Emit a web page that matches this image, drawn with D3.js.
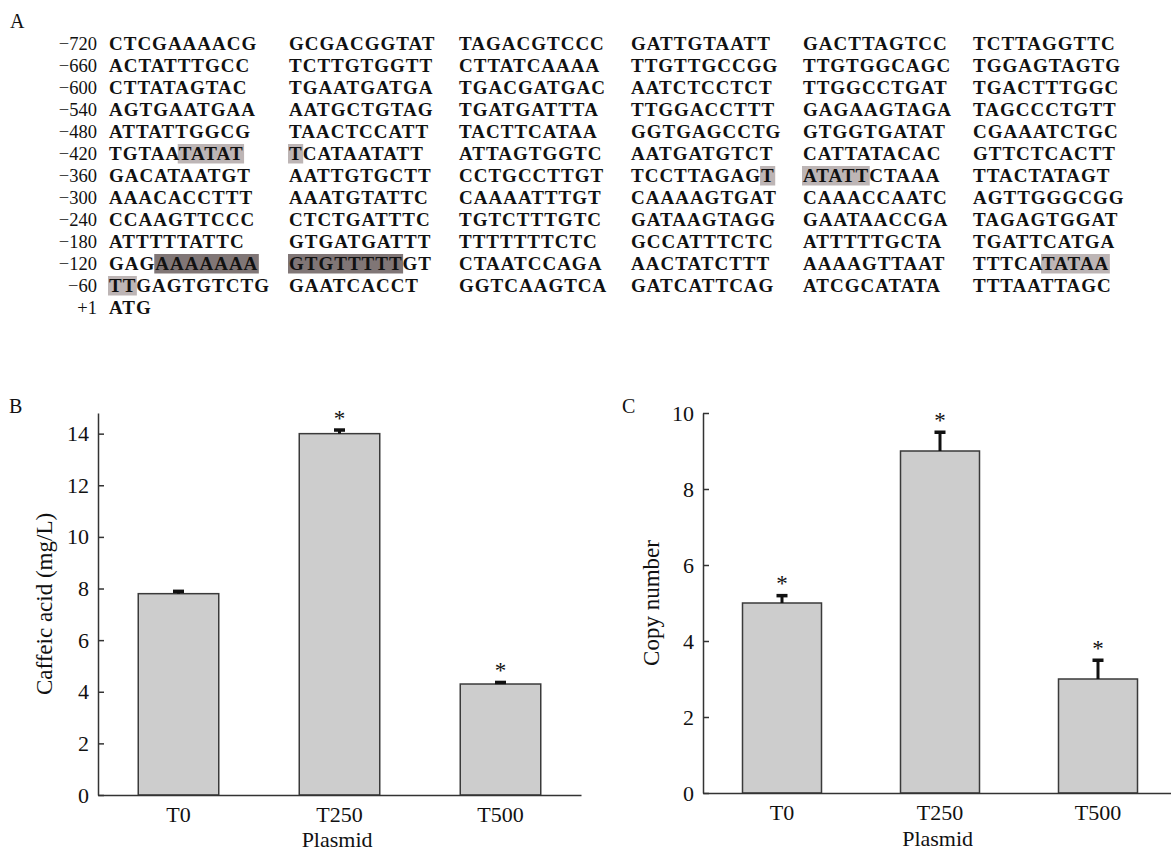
<!DOCTYPE html>
<html>
<head>
<meta charset="utf-8">
<script src="https://cdn.jsdelivr.net/npm/d3@7"></script>
<style>
  html, body { margin: 0; padding: 0; background: #fff; }
  svg { display: block; font-family: "Liberation Serif", "Times New Roman", serif; fill: #111; }
</style>
</head>
<body>
<div id="chart"></div>
<script>
// panel A: promoter sequence, one string per row, blocks split by spaces
var seqLabels = ['\u2212720', '\u2212660', '\u2212600', '\u2212540', '\u2212480', '\u2212420',
                 '\u2212360', '\u2212300', '\u2212240', '\u2212180', '\u2212120', '\u221260', '+1'];
var seqRows = [
  'CTCGAAAACG GCGACGGTAT TAGACGTCCC GATTGTAATT GACTTAGTCC TCTTAGGTTC',
  'ACTATTTGCC TCTTGTGGTT CTTATCAAAA TTGTTGCCGG TTGTGGCAGC TGGAGTAGTG',
  'CTTATAGTAC TGAATGATGA TGACGATGAC AATCTCCTCT TTGGCCTGAT TGACTTTGGC',
  'AGTGAATGAA AATGCTGTAG TGATGATTTA TTGGACCTTT GAGAAGTAGA TAGCCCTGTT',
  'ATTATTGGCG TAACTCCATT TACTTCATAA GGTGAGCCTG GTGGTGATAT CGAAATCTGC',
  'TGTAATATAT TCATAATATT ATTAGTGGTC AATGATGTCT CATTATACAC GTTCTCACTT',
  'GACATAATGT AATTGTGCTT CCTGCCTTGT TCCTTAGAGT ATATTCTAAA TTACTATAGT',
  'AAACACCTTT AAATGTATTC CAAAATTTGT CAAAAGTGAT CAAACCAATC AGTTGGGCGG',
  'CCAAGTTCCC CTCTGATTTC TGTCTTTGTC GATAAGTAGG GAATAACCGA TAGAGTGGAT',
  'ATTTTTATTC GTGATGATTT TTTTTTTCTC GCCATTTCTC ATTTTTGCTA TGATTCATGA',
  'GAGAAAAAAA GTGTTTTTGT CTAATCCAGA AACTATCTTT AAAAGTTAAT TTTCATATAA',
  'TTGAGTGTCTG GAATCACCT GGTCAAGTCA GATCATTCAG ATCGCATATA TTTAATTAGC',
  'ATG'
];
// marked bases: row, block, first and last base index, dark or light box
var marked = [
  { row: 5,  col: 0, from: 5, to: 9, dark: false },
  { row: 5,  col: 1, from: 0, to: 0, dark: false },
  { row: 6,  col: 3, from: 9, to: 9, dark: false },
  { row: 6,  col: 4, from: 0, to: 4, dark: false },
  { row: 10, col: 0, from: 3, to: 9, dark: true },
  { row: 10, col: 1, from: 0, to: 7, dark: true },
  { row: 10, col: 5, from: 5, to: 9, dark: false },
  { row: 11, col: 0, from: 0, to: 1, dark: false }
];

// panels B and C
var plasmids = ['T0', 'T250', 'T500'];
var caffeic = [7.8, 14.0, 4.3];
var caffeicErr = [0.1, 0.15, 0.07];
var caffeicStar = [false, true, true];
var caffeicTicks = [0, 2, 4, 6, 8, 10, 12, 14];
var copies = [5.0, 9.0, 3.0];
var copiesErr = [0.2, 0.5, 0.5];
var copiesStar = [true, true, true];
var copiesTicks = [0, 2, 4, 6, 8, 10];

var svg = d3.select('#chart').append('svg')
  .attr('width', 1171)
  .attr('height', 854);

// ---------- A ----------
var rowY = d3.scaleLinear().domain([0, 12]).range([50, 314]);
var colStart = [109, 289, 459, 631, 803, 973];
var spacing = 1;

var shade = svg.append('g');
var letters = svg.append('g');

svg.append('text').attr('x', 10).attr('y', 28).style('font-size', '20px').text('A');

letters.selectAll('text.lab')
  .data(seqLabels)
  .enter()
  .append('text')
  .attr('class', 'lab')
  .attr('x', 97)
  .attr('y', function(d, i) { return rowY(i); })
  .attr('text-anchor', 'end')
  .style('font-size', '18.5px')
  .text(function(d) { return d; });

var blocks = [];
seqRows.forEach(function(r, i) {
  r.split(' ').forEach(function(b, j) { blocks.push({ row: i, col: j, s: b }); });
});

letters.selectAll('text.seq')
  .data(blocks)
  .enter()
  .append('text')
  .attr('class', 'seq')
  .attr('x', function(d) { return colStart[d.col]; })
  .attr('y', function(d) { return rowY(d.row); })
  .style('font-size', '19px')
  .style('font-weight', 'bold')
  .style('letter-spacing', spacing + 'px')
  .text(function(d) { return d.s; });

marked.forEach(function(m) {
  var node = letters.selectAll('text.seq')
    .filter(function(d) { return d.row === m.row && d.col === m.col; })
    .node();
  var x0 = node.getStartPositionOfChar(m.from).x - 1;
  var x1 = node.getEndPositionOfChar(m.to).x - spacing + 1.5;
  shade.append('rect')
    .attr('x', x0)
    .attr('y', rowY(m.row) - 16)
    .attr('width', x1 - x0)
    .attr('height', 19.5)
    .attr('fill', m.dark ? '#807676' : '#bdb5b5');
});

// ---------- B and C ----------
function barPanel(o) {
  var g = svg.append('g');
  var x = d3.scaleBand().domain(plasmids).range([o.left, o.right])
    .paddingInner(0.5).paddingOuter(0.25);
  var y = d3.scaleLinear().domain([0, o.max]).range([o.bottom, o.top]);
  var c = x.bandwidth() / 2;

  g.selectAll('rect.bar')
    .data(o.values)
    .enter()
    .append('rect')
    .attr('class', 'bar')
    .attr('x', function(d, i) { return x(plasmids[i]); })
    .attr('y', function(d) { return y(d); })
    .attr('width', x.bandwidth())
    .attr('height', function(d) { return o.bottom - y(d); })
    .attr('fill', '#cdcdcd')
    .attr('stroke', '#3a3a3a')
    .attr('stroke-width', 1.5);

  g.selectAll('line.err')
    .data(o.values)
    .enter()
    .append('line')
    .attr('class', 'err')
    .attr('x1', function(d, i) { return x(plasmids[i]) + c; })
    .attr('x2', function(d, i) { return x(plasmids[i]) + c; })
    .attr('y1', function(d) { return y(d); })
    .attr('y2', function(d, i) { return y(d + o.errors[i]); })
    .attr('stroke', '#111')
    .attr('stroke-width', 3);

  g.selectAll('rect.cap')
    .data(o.values)
    .enter()
    .append('rect')
    .attr('class', 'cap')
    .attr('x', function(d, i) { return x(plasmids[i]) + c - 5.5; })
    .attr('y', function(d, i) { return y(d + o.errors[i]) - 1.5; })
    .attr('width', 11)
    .attr('height', 3.5)
    .attr('fill', '#111');

  g.selectAll('text.star')
    .data(o.values.map(function(v, i) { return i; }).filter(function(i) { return o.stars[i]; }))
    .enter()
    .append('text')
    .attr('class', 'star')
    .attr('x', function(i) { return x(plasmids[i]) + c; })
    .attr('y', function(i) { return y(o.values[i] + o.errors[i]) - 4; })
    .attr('text-anchor', 'middle')
    .style('font-size', '23px')
    .text('*');

  var xAxis = g.append('g')
    .attr('transform', 'translate(0,' + o.bottom + ')')
    .call(d3.axisBottom(x).tickSize(0).tickPadding(11));
  var yAxis = g.append('g')
    .attr('transform', 'translate(' + o.left + ',0)')
    .call(d3.axisLeft(y).tickValues(o.ticks).tickSizeInner(-6).tickSizeOuter(0).tickPadding(9));

  [xAxis, yAxis].forEach(function(a) {
    a.attr('font-family', null).attr('font-size', null);
    a.selectAll('path, line').attr('stroke', '#333').attr('stroke-width', 1.5);
    a.selectAll('text').attr('fill', '#111').style('font-size', '22px');
  });

  g.append('text')
    .attr('x', (o.left + o.right) / 2 - (o.right - o.left) * 0.005)
    .attr('y', o.plasmidY)
    .attr('text-anchor', 'middle')
    .style('font-size', '22px')
    .text('Plasmid');

  g.append('text')
    .attr('transform', 'translate(' + o.titleX + ',' + ((o.top + o.bottom) / 2) + ') rotate(-90)')
    .attr('text-anchor', 'middle')
    .style('font-size', '23px')
    .text(o.title);

  g.append('text')
    .attr('x', o.labelX)
    .attr('y', 413)
    .style('font-size', '20px')
    .text(o.label);
}

barPanel({
  label: 'B', labelX: 9,
  left: 98, right: 581, top: 413, bottom: 795, max: 14.8,
  values: caffeic, errors: caffeicErr, stars: caffeicStar, ticks: caffeicTicks,
  title: 'Caffeic acid (mg/L)', titleX: 52, plasmidY: 847
});

barPanel({
  label: 'C', labelX: 622,
  left: 703, right: 1177, top: 413, bottom: 793, max: 10,
  values: copies, errors: copiesErr, stars: copiesStar, ticks: copiesTicks,
  title: 'Copy number', titleX: 659, plasmidY: 846
});
</script>
</body>
</html>
